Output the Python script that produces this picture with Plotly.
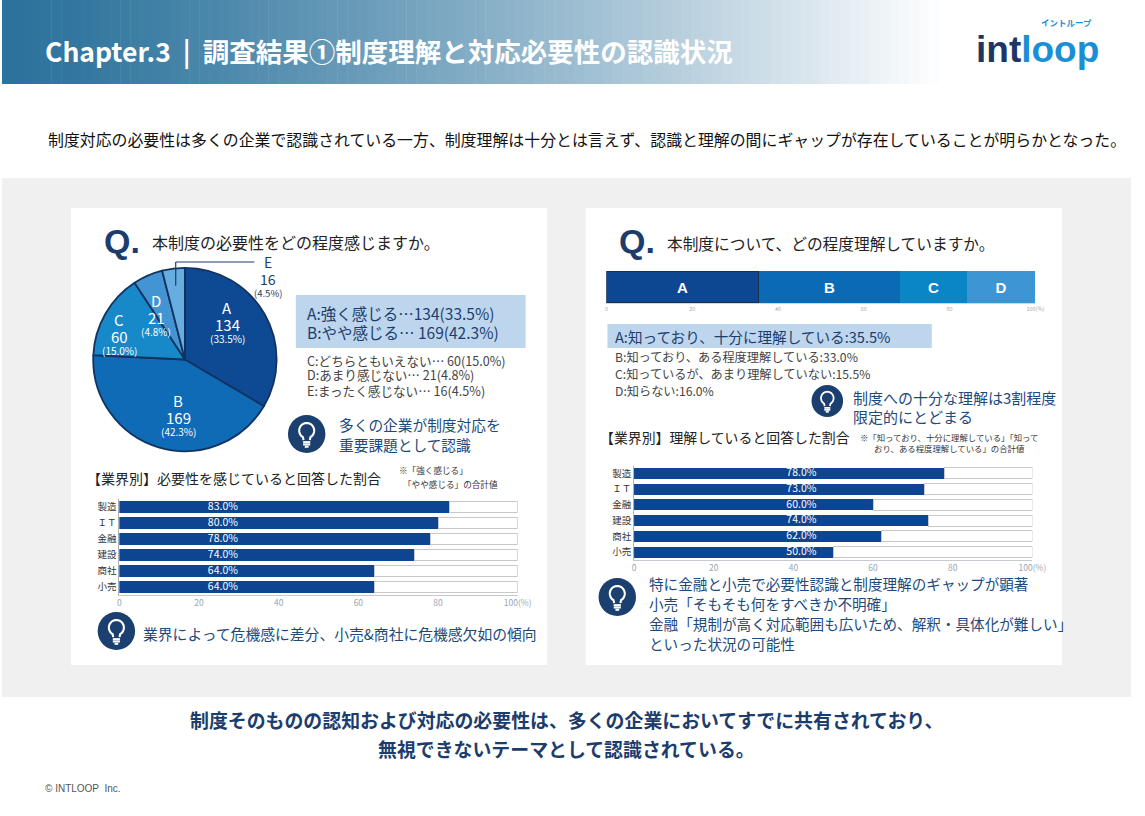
import math
import plotly.graph_objects as go

W, H = 1145, 816
JP = "Noto Sans CJK JP"
NAVY = "#1c3d6c"
INSIGHT = "#1d4a7c"
BAR = "#0e4592"

# ---- data ----
pie_labels = ["A", "B", "C", "D", "E"]
pie_counts = [134, 169, 60, 21, 16]
pie_pcts = ["33.5%", "42.3%", "15.0%", "4.8%", "4.5%"]

need_legend_main = ["A:強く感じる…134(33.5%)", "B:やや感じる… 169(42.3%)"]
need_legend_sub = ["C:どちらともいえない… 60(15.0%)",
                   "D:あまり感じない… 21(4.8%)",
                   "E:まったく感じない… 16(4.5%)"]

industries = ["製造", "ＩＴ", "金融", "建設", "商社", "小売"]
need_rate = [83.0, 80.0, 78.0, 74.0, 64.0, 64.0]
understand_rate = [78.0, 73.0, 60.0, 74.0, 62.0, 50.0]

und_labels = ["A", "B", "C", "D"]
und_pcts = [35.5, 33.0, 15.5, 16.0]
und_legend_main = "A:知っており、十分に理解している:35.5%"
und_legend_sub = ["B:知っており、ある程度理解している:33.0%",
                  "C:知っているが、あまり理解していない:15.5%",
                  "D:知らない:16.0%"]

pct_ticks = [0, 20, 40, 60, 80, 100]
pct_ticktext = ["0", "20", "40", "60", "80", "100(%)"]

# ---- styles ----
pie_colors = ["#0e4a93", "#0f6bb5", "#1788c8", "#4394d2", "#68ade0"]
und_colors = ["#0d4691", "#0b6ab6", "#0a85c6", "#3e95d4"]
und_edge = ["#1a2e52", None, None, None]


def px(x):
    return x / W


def py(y):
    return 1 - y / H


shapes = []
annotations = []


def rect(x0, y0, x1, y1, color, layer="below"):
    shapes.append(dict(type="rect", xref="paper", yref="paper", x0=px(x0), x1=px(x1),
                       y0=py(y1), y1=py(y0), fillcolor=color, line=dict(width=0), layer=layer))


def line(x0, y0, x1, y1, color, width=1.0):
    shapes.append(dict(type="line", xref="paper", yref="paper", x0=px(x0), x1=px(x1),
                       y0=py(y0), y1=py(y1), line=dict(color=color, width=width)))


def text(x, y, s, size, color, anchor="left", family=JP, align="left"):
    annotations.append(dict(xref="paper", yref="paper", x=px(x), y=py(y), text=s,
                            showarrow=False, xanchor=anchor, yanchor="middle", align=align,
                            font=dict(size=size, color=color, family=family)))


def bulb(cx, cy, r):
    shapes.append(dict(type="circle", xref="paper", yref="paper", x0=px(cx - r), x1=px(cx + r),
                       y0=py(cy + r), y1=py(cy - r), fillcolor="#1b3f6e", line=dict(width=0)))
    R = 0.4 * r
    gy = cy - 0.18 * r
    lw = max(1.4, r / 9)
    pts = [(cx - 0.17 * r, cy + 0.32 * r)]
    for k in range(31):
        th = math.radians(240 - k * 10)
        pts.append((cx + R * math.cos(th), gy - R * math.sin(th)))
    pts.append((cx + 0.17 * r, cy + 0.32 * r))
    path = "M " + " L ".join(f"{px(a):.5f},{py(b):.5f}" for a, b in pts)
    shapes.append(dict(type="path", xref="paper", yref="paper", path=path,
                       line=dict(color="white", width=lw)))
    for dy, hw in [(0.43, 0.19), (0.55, 0.19), (0.67, 0.1)]:
        line(cx - hw * r, cy + dy * r, cx + hw * r, cy + dy * r, "white", lw)


# ---- background ----
c0 = (43, 114, 156)
for i in range(96):
    t = (i / 95) ** 1.25
    col = tuple(round(c + (255 - c) * t) for c in c0)
    rect(i * 10, 0, i * 10 + 10.5, 84, f"rgb{col}")
rect(0, 178, W, 697, "#f0f0f0")
rect(70, 208, 553, 665, "white")
rect(592, 208, 1075, 665, "white")

# header
text(42, 50, "<b>Chapter.3  |  調査結果①制度理解と対応必要性の認識状況</b>", 26.5, "white")
text(1050, 49, "<b><span style='color:#1c3766'>int</span><span style='color:#1b8fd6'>loop</span></b>",
     37, "#1c3766", anchor="center", family="Liberation Sans")
text(1080, 22, "<b>イントループ</b>", 8.5, "#1b8fd6", anchor="center")
text(45, 139, "制度対応の必要性は多くの企業で認識されている一方、制度理解は十分とは言えず、認識と理解の間にギャップが存在していることが明らかとなった。",
     15.9, "#111")

# footer
text(572, 719, "<b>制度そのものの認知および対応の必要性は、多くの企業においてすでに共有されており、</b>", 18.9, NAVY, anchor="center")
text(572, 748, "<b>無視できないテーマとして認識されている。</b>", 18.9, NAVY, anchor="center")
text(42, 788, "© INTLOOP  Inc.", 10, "#555", family="Liberation Sans Narrow, Liberation Sans, sans-serif")

fig = go.Figure()

# ---- left panel: pie ----
text(101, 241, "<b>Q.</b>", 34, NAVY, family="Liberation Sans")
text(150, 242, "本制度の必要性をどの程度感じますか。", 16, "#222")

pcx, pcy, pr = 185.5, 359.5, 93
fig.add_trace(go.Pie(
    values=pie_counts, labels=pie_labels, sort=False, direction="clockwise", rotation=0,
    marker=dict(colors=pie_colors, line=dict(color="#12335f", width=1.8)),
    textinfo="none", hoverinfo="skip", showlegend=False,
    domain=dict(x=[px(pcx - pr), px(pcx + pr)], y=[py(pcy + pr), py(pcy - pr)]),
))

total = sum(pie_counts)
label_r = [0.6, 0.62, 0.76, 0.56]
cum = 0
for i, cnt in enumerate(pie_counts):
    mid = (cum + cnt / 2) / total * 2 * math.pi
    cum += cnt
    if i < 4:
        a = mid - math.radians(10)
        lx = pcx + label_r[i] * pr * math.sin(a)
        ly = pcy - label_r[i] * pr * math.cos(a)
        text(lx, ly - 16, pie_labels[i], 15, "white", anchor="center")
        text(lx, ly + 1, str(cnt), 15, "white", anchor="center")
        text(lx, ly + 15, f"({pie_pcts[i]})", 10, "white", anchor="center")
    else:
        ex = pcx + 0.8 * pr * math.sin(mid)
        ey = pcy - 0.8 * pr * math.cos(mid)
        line(ex, ey, ex, 262, NAVY, 1.2)
        line(ex, 262, 256, 262, NAVY, 1.2)
        text(270, 262, pie_labels[i], 14, NAVY, anchor="center")
        text(270, 279, str(cnt), 14, NAVY, anchor="center")
        text(270, 293, f"({pie_pcts[i]})", 9.5, NAVY, anchor="center")

rect(298, 295, 531, 348, "#bdd6ee")
for k, s in enumerate(need_legend_main):
    text(307, 313 + k * 19, s, 15.5, NAVY)
for k, s in enumerate(need_legend_sub):
    text(307, 360 + k * 15, s, 12.6, "#444")

bulb(309, 434, 19)
text(340, 424, "多くの企業が制度対応を", 14.7, INSIGHT)
text(340, 445, "重要課題として認識", 14.7, INSIGHT)

# ---- left panel: industry bars ----
text(84, 478, "【業界別】必要性を感じていると回答した割合", 14, "#222")
text(401, 470, "※「強く感じる」", 8.6, "#333")
text(405, 484, "「やや感じる」の合計値", 8.6, "#333")


def industry_bars(values, xa, ya, label_x):
    fig.add_trace(go.Bar(y=industries, x=values, orientation="h", width=0.7,
                         marker=dict(color=BAR, line=dict(width=0)),
                         xaxis=xa, yaxis=ya, hoverinfo="skip", showlegend=False))
    fig.add_trace(go.Bar(y=industries, x=[100 - v for v in values], orientation="h", width=0.7,
                         marker=dict(color="white", line=dict(color="#c8c8c8", width=1)),
                         xaxis=xa, yaxis=ya, hoverinfo="skip", showlegend=False))
    fig.add_trace(go.Scatter(y=industries, x=[label_x] * len(values), mode="text",
                             text=[f"{v:.1f}%" for v in values],
                             textfont=dict(color="white", size=10.5, family=JP),
                             xaxis=xa, yaxis=ya, hoverinfo="skip", showlegend=False,
                             cliponaxis=False))


industry_bars(need_rate, "x", "y", 26)

bulb(116, 631, 19)
text(141, 633, "業界によって危機感に差分、小売&商社に危機感欠如の傾向", 14.8, INSIGHT)

# ---- right panel: stacked understanding bar ----
text(624, 241, "<b>Q.</b>", 34, NAVY, family="Liberation Sans")
text(672, 243, "本制度について、どの程度理解していますか。", 15.7, "#222")

for lab, val, col, edge in zip(und_labels, und_pcts, und_colors, und_edge):
    fig.add_trace(go.Bar(
        y=["理解度"], x=[val], orientation="h", width=1,
        marker=dict(color=col, line=dict(color=edge or col, width=1.5 if edge else 0)),
        text=[f"<b>{lab}</b>"], textposition="inside", insidetextanchor="middle",
        textfont=dict(color="white", size=15, family="Liberation Sans"),
        xaxis="x3", yaxis="y3", hoverinfo="skip", showlegend=False,
    ))

rect(614, 324, 943, 348, "#bdd6ee")
text(620, 336, und_legend_main, 14.6, NAVY)
for k, s in enumerate(und_legend_sub):
    text(620, 357 + k * 17, s, 12.2, "#444")

bulb(837, 401, 16)
text(861, 397, "制度への十分な理解は3割程度", 15, INSIGHT)
text(861, 417, "限定的にとどまる", 15, INSIGHT)

# ---- right panel: industry bars ----
text(604, 437, "【業界別】理解していると回答した割合", 13.9, "#222")
text(960, 443, "※「知っており、十分に理解している」「知って<br>おり、ある程度理解している」の合計値",
     8.4, "#333", anchor="center", align="center")

industry_bars(understand_rate, "x2", "y2", 42)

bulb(624, 597, 19)
insight_lines = ["特に金融と小売で必要性認識と制度理解のギャップが顕著",
                 "小売「そもそも何をすべきか不明確」",
                 "金融「規制が高く対応範囲も広いため、解釈・具体化が難しい」",
                 "といった状況の可能性"]
for k, s in enumerate(insight_lines):
    text(654, 583 + k * 20, s, 14.6, INSIGHT)


# ---- axes ----
def pct_axis(x0, x1, anchor, size, color, linecolor):
    return dict(domain=[px(x0), px(x1)], anchor=anchor, range=[0, 100], tickvals=pct_ticks,
                ticktext=pct_ticktext, tickfont=dict(size=size, color=color, family=JP),
                showgrid=False, zeroline=False, showline=True, linecolor=linecolor,
                linewidth=1, ticks="", fixedrange=True)


def cat_axis(y0, y1, anchor):
    return dict(domain=[py(y1), py(y0)], anchor=anchor, type="category",
                range=[len(industries) - 0.5, -0.5],
                tickfont=dict(size=9.5, color="#333", family=JP), showgrid=False,
                zeroline=False, showline=True, linecolor="#a9b0ba", linewidth=1,
                ticks="", fixedrange=True)


fig.update_layout(
    height=H, margin=dict(l=0, r=0, t=0, b=0),
    paper_bgcolor="white", plot_bgcolor="rgba(0,0,0,0)",
    showlegend=False, barmode="stack",
    xaxis=pct_axis(119, 523, "y", 8.5, "#9aa6b4", "#c5cad2"),
    yaxis=cat_axis(499, 595, "x"),
    xaxis2=pct_axis(641, 1045, "y2", 8.5, "#9aa6b4", "#c5cad2"),
    yaxis2=cat_axis(465.5, 560, "x2"),
    xaxis3=pct_axis(613, 1048, "y3", 5.5, "#aaaaaa", "#d5d5d5"),
    yaxis3=dict(domain=[py(303), py(271)], anchor="x3", range=[-0.5, 0.5], visible=False,
                fixedrange=True),
    shapes=shapes, annotations=annotations,
    font=dict(family=JP),
)

# no page margin, and stretch the figure over the full window width
fit = (
    "document.documentElement.style.overflow='hidden';"
    "document.body.style.margin='0';document.body.style.overflow='hidden';"
    "var gd=document.getElementById('{plot_id}');"
    "gd.style.width='100%';"
    "Plotly.relayout(gd,{width:document.documentElement.clientWidth,height:816});"
)
fig.write_html("out.html", default_width="100%",
               config={"displayModeBar": False}, post_script=fit)
